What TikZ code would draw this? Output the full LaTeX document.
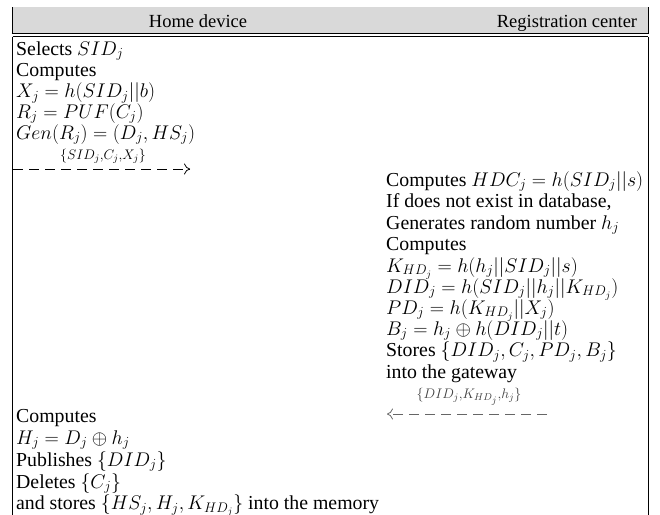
\RequirePackage{fix-cm}
\documentclass[tikz,border=0pt]{standalone}
\usepackage{fontspec}
\setmainfont{Liberation Serif}
\usetikzlibrary{arrows.meta}
\definecolor{hdrgray}{RGB}{217,217,217}
\begin{document}
\begin{tikzpicture}[x=1pt,y=-1pt,
  txt/.style={anchor=base west, inner sep=0pt, font=\fontsize{19.8}{23}\selectfont},
  hdr/.style={anchor=base, inner sep=0pt, font=\fontsize{18.5}{22}\selectfont},
  lbl/.style={anchor=base, inner sep=0pt, font=\fontsize{19.8}{23}\selectfont},
  msg/.style={line width=0.8pt, dash pattern=on 10pt off 6pt,
    -{Computer Modern Rightarrow[length=6pt,width=11pt]}},
  border/.style={line width=1pt, black}]
\useasboundingbox (0,0) rectangle (660,514);
\clip (0,0) rectangle (660,514);
% header
\fill[hdrgray] (12,7) rectangle (648,33.5);
\draw[border] (12,7) -- (12,33.5);
\draw[border] (648,7) -- (648,33.5);
\draw[line width=1.2pt] (11.5,33.8) -- (648.5,33.8);
\node[hdr] (hd) at (198,27.5) {Home device};
\node[hdr] (rc) at (567,27.5) {Registration center};
% body frame
\draw[border] (12.5,36.5) -- (648,36.5);
\draw[border] (12.5,36.5) -- (12.5,530);
\draw[border] (648,36.5) -- (648,530);
% home device, first part
\node[txt] (l1) at (16,55) {Selects $SID_j$};
\node[txt] (l2) at (16,76.5) {Computes};
\node[txt] (l3) at (16,97.5) {$X_j = h(SID_j||b)$};
\node[txt] (l4) at (16,118) {$R_j = PUF(C_j)$};
\node[txt] (l5) at (16,139) {$Gen(R_j) = (D_j, HS_j)$};
% message 1
\coordinate (m1s) at (13,169);
\coordinate (m1e) at (190,169);
\draw[msg] (m1s) -- (m1e);
\node[lbl] (m1) at (103,159) {$\scriptstyle\{SID_j,C_j,X_j\}$};
% registration center
\node[txt] (r1) at (386,186) {Computes $HDC_j = h(SID_j||s)$};
\node[txt] (r2) at (386,207.5) {If does not exist in database,};
\node[txt] (r3) at (386,229) {Generates random number $h_j$};
\node[txt] (r4) at (386,250.5) {Computes};
\node[txt] (r5) at (386,272) {$K_{HD_j} = h(h_j||SID_j||s)$};
\node[txt] (r6) at (386,293) {$DID_j = h(SID_j||h_j||K_{HD_j})$};
\node[txt] (r7) at (386,314) {$PD_j = h(K_{HD_j}||X_j)$};
\node[txt] (r8) at (386,335) {$B_j = h_j \oplus h(DID_j||t)$};
\node[txt] (r9) at (386,356.5) {Stores $\{DID_j, C_j, PD_j, B_j\}$};
\node[txt] (r10) at (386,378) {into the gateway};
% message 2
\coordinate (m2s) at (547,414);
\coordinate (m2e) at (387,414);
\draw[msg, black!60] (m2s) -- (m2e);
\node[lbl, text=black!75] (m2) at (469,398.5) {$\scriptstyle\{DID_j,K_{HD_j},h_j\}$};
% home device, second part
\node[txt] (b1) at (16,422) {Computes};
\node[txt] (b2) at (16,444) {$H_j = D_j \oplus h_j$};
\node[txt] (b3) at (16,466) {Publishes $\{DID_j\}$};
\node[txt] (b4) at (16,488) {Deletes $\{C_j\}$};
\node[txt] (b5) at (16,509.5) {and stores $\{HS_j, H_j, K_{HD_j}\}$ into the memory};
\end{tikzpicture}
\end{document}
